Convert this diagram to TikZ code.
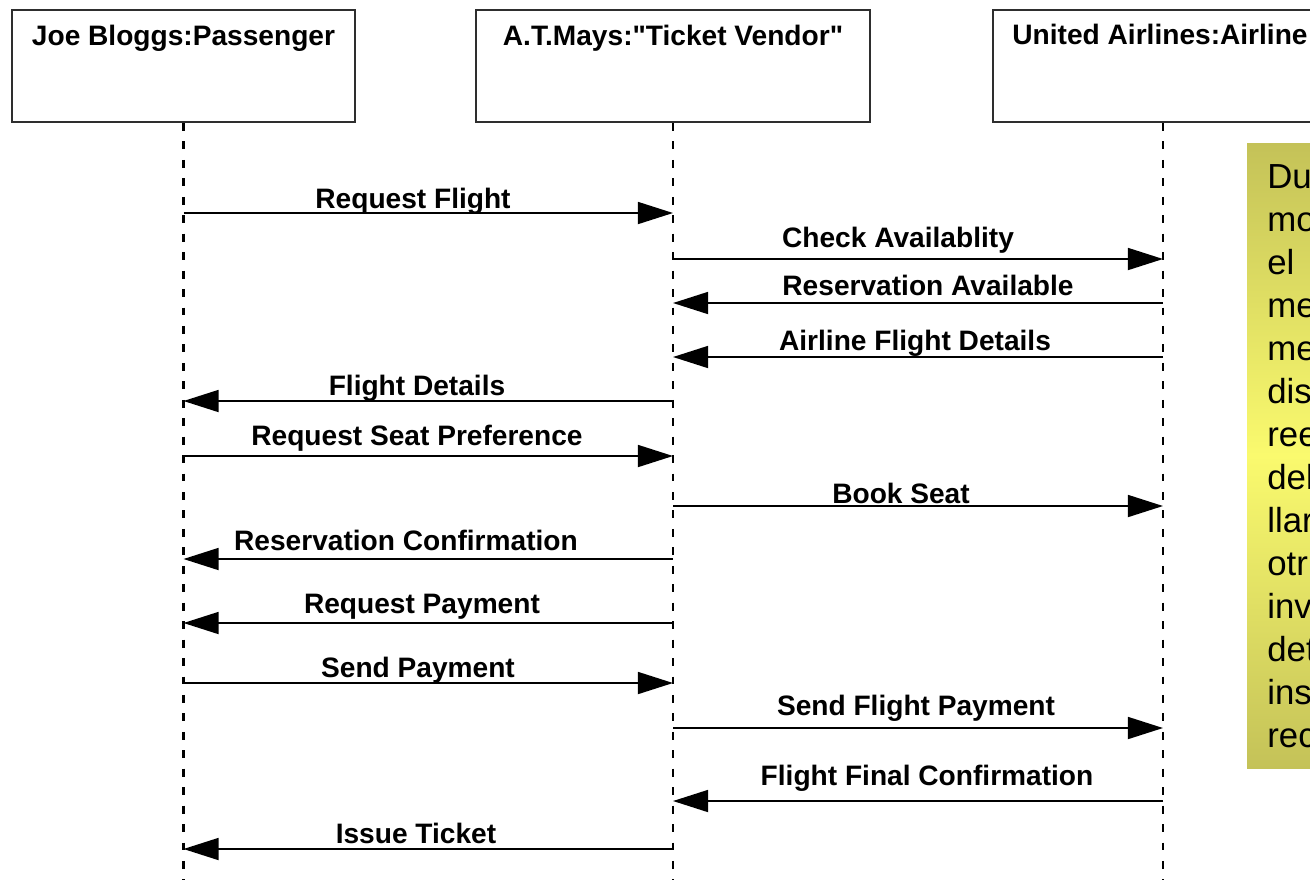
\documentclass[tikz,border=0pt]{standalone}
\usepackage{fontspec}
\setsansfont{Liberation Sans}[Ligatures=TeXOff]
\usetikzlibrary{arrows.meta,positioning}
\definecolor{boxline}{HTML}{2E2E2E}
\definecolor{noteolive}{HTML}{C4C258}
\definecolor{noteyellow}{HTML}{FAFA6E}
\tikzset{
  % object boxes on top
  obj/.style={draw=boxline, fill=white, line width=1.2pt, minimum height=2.24cm,
    inner sep=0pt},
  objname/.style={anchor=base, inner sep=0pt,
    font=\sffamily\bfseries\fontsize{16pt}{19pt}\selectfont},
  life/.style={line width=1.2pt, dash pattern=on 4.5pt off 6pt},
  % messages
  msg/.style={-{Triangle[length=20pt,width=12.5pt]}, line width=1.1pt},
  msglbl/.style={anchor=base, inner sep=0pt,
    font=\sffamily\bfseries\fontsize{16pt}{19pt}\selectfont},
  % the yellow note
  notebox/.style={top color=noteolive, bottom color=noteolive, middle color=noteyellow},
  notetext/.style={anchor=base west, inner sep=0pt,
    font=\sffamily\fontsize{19.8pt}{24pt}\selectfont},
}
\begin{document}
\begin{tikzpicture}[x=0.02cm,y=-0.02cm]
  \useasboundingbox (0,0) rectangle (1310,880);
  \clip (0,0) rectangle (1310,880);
  \fill[white] (0,0) rectangle (1310,880);
  % objects
  \node[obj, minimum width=6.86cm] (pass) at (183.5,66) {};
  \node[obj, minimum width=7.88cm] (vendor) at (673,66) {};
  \node[obj, minimum width=6.8cm] (airline) at (1163,66) {};
  \node[objname] (passname) at (183.5,45) {Joe Bloggs:Passenger};
  \node[objname] (vendorname) at (673,45) {A.T.Mays:"Ticket Vendor"};
  \node[objname] (airlinename) at (1160,44) {United Airlines:Airline};
  \foreach \o in {pass,vendor,airline}
    \draw[life] (\o.south) -- (\o |- 0,880);
  % messages
  \foreach \from/\to/\y/\ly/\lx/\txt in {
      pass/vendor/213/208/413/Request Flight,
      vendor/airline/259/247/898/Check Availablity,
      airline/vendor/303/295/928/Reservation Available,
      airline/vendor/357/350/915/Airline Flight Details,
      vendor/pass/401/395/417/Flight Details,
      pass/vendor/456/445/417/Request Seat Preference,
      vendor/airline/506/503/901/Book Seat,
      vendor/pass/559/550/406/Reservation Confirmation,
      vendor/pass/623/613/422/Request Payment,
      pass/vendor/683/677/418/Send Payment,
      vendor/airline/728/715/916/Send Flight Payment,
      airline/vendor/801/785/927/Flight Final Confirmation,
      vendor/pass/849/843/416/Issue Ticket} {
    \draw[msg] (\from |- 0,\y) -- (\to |- 0,\y);
    \node[msglbl] (lbl\y) at (\lx,\ly) {\txt};
  }
  % note
  \shade[notebox] (1247,143) rectangle (1340,768);
  \foreach \w [count=\i from 0] in {Du,mo,el,me,me,dis,ree,del,llar,otr,inv,det,ins,rec}
    \node[notetext] (nl\i) at (1267,188+43*\i) {\w};
\end{tikzpicture}
\end{document}
